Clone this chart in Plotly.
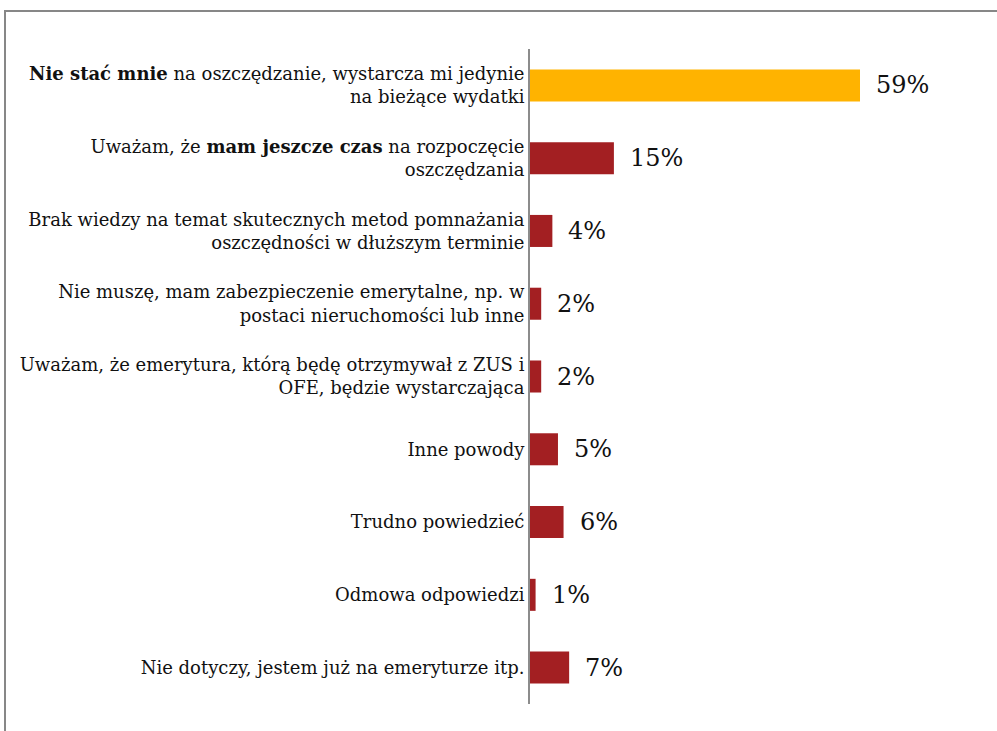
import plotly.graph_objects as go

# Reasons for not saving for retirement (share of respondents, %)
categories = [
    "<b>Nie stać mnie</b> na oszczędzanie, wystarcza mi jedynie<br>na bieżące wydatki",
    "Uważam, że <b>mam jeszcze czas</b> na rozpoczęcie<br>oszczędzania",
    "Brak wiedzy na temat skutecznych metod pomnażania<br>oszczędności w dłuższym terminie",
    "Nie muszę, mam zabezpieczenie emerytalne, np. w<br>postaci nieruchomości lub inne",
    "Uważam, że emerytura, którą będę otrzymywał z ZUS i<br>OFE, będzie wystarczająca",
    "Inne powody",
    "Trudno powiedzieć",
    "Odmowa odpowiedzi",
    "Nie dotyczy, jestem już na emeryturze itp.",
]
values = [59, 15, 4, 2, 2, 5, 6, 1, 7]
value_labels = ["59%", "15%", "4%", "2%", "2%", "5%", "6%", "1%", "7%"]

ORANGE = "#FFB300"
RED = "#A31F22"
colors = [ORANGE] + [RED] * (len(values) - 1)

W, H = 997, 731
L, R, T, B = 530, 7, 49, 27

fig = go.Figure(
    go.Bar(
        x=values,
        y=categories,
        orientation="h",
        marker=dict(color=colors, line=dict(width=0)),
        width=0.44,
        hoverinfo="skip",
    )
)

for cat, v, lab in zip(categories, values, value_labels):
    fig.add_annotation(
        x=v, y=cat, text=lab, showarrow=False,
        xanchor="left", yanchor="middle", xshift=14,
        font=dict(family="DejaVu Serif", size=24, color="#111111"),
    )

plot_w = W - L - R
plot_h = H - T - B


def px_x(p):
    return (p - L) / plot_w


def px_y(p):
    return (H - B - p) / plot_h


# outer frame (partially outside the page)
fig.add_shape(
    type="rect", xref="paper", yref="paper",
    x0=px_x(5), x1=px_x(1010), y0=px_y(745), y1=px_y(11),
    line=dict(color="#878787", width=2), fillcolor="rgba(0,0,0,0)",
    layer="below",
)

fig.update_layout(
    width=W, height=H,
    margin=dict(l=L, r=R, t=T, b=B),
    paper_bgcolor="white", plot_bgcolor="white",
    showlegend=False,
    font=dict(family="DejaVu Serif", size=18, color="#111111"),
    xaxis=dict(
        range=[0, plot_w / (330 / 59)],
        visible=False, showgrid=False, zeroline=False,
    ),
    yaxis=dict(
        autorange="reversed",
        showline=True, linecolor="#8C8C8C", linewidth=2,
        ticks="", ticklen=0, showgrid=False, zeroline=False,
        tickfont=dict(family="DejaVu Serif", size=18, color="#111111"),
        ticklabelstandoff=0,
    ),
)

fig.write_html("out.html")
